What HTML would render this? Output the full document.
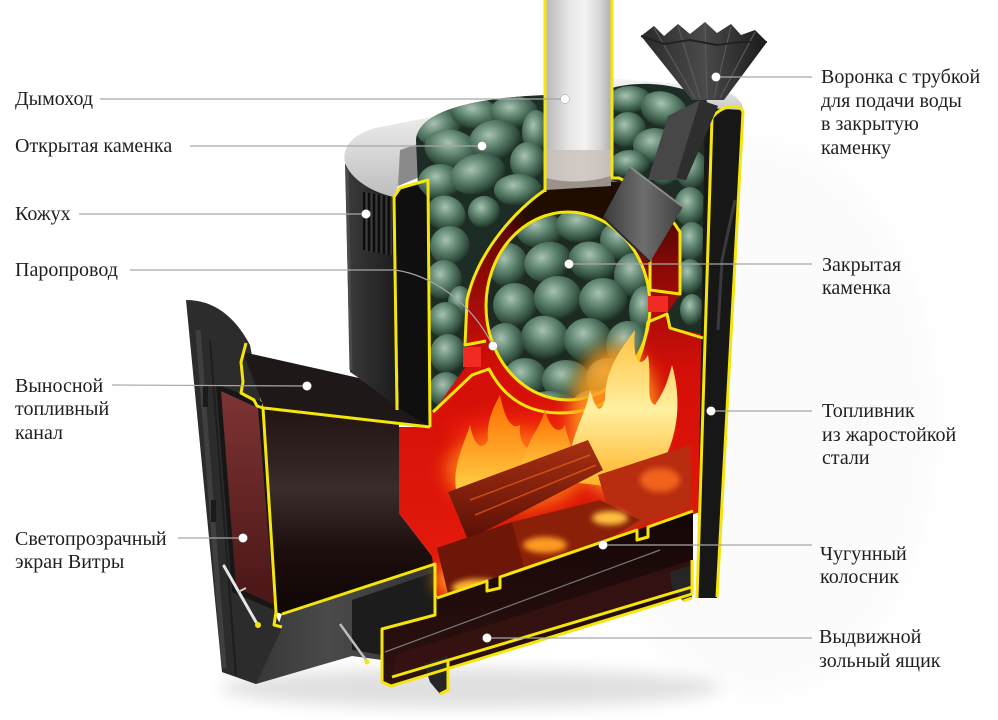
<!DOCTYPE html>
<html><head><meta charset="utf-8"><style>
html,body{margin:0;padding:0;background:#fff;}
svg{display:block;}
text{font-family:"Liberation Serif","DejaVu Serif",serif;font-size:20px;fill:#1f1f1f;}
</style></head><body>
<svg width="998" height="720" viewBox="0 0 998 720" xmlns="http://www.w3.org/2000/svg">
<defs>
<linearGradient id="gChim" x1="0" y1="0" x2="1" y2="0">
<stop offset="0" stop-color="#b8b8b8"/><stop offset=".35" stop-color="#e6e6e6"/><stop offset=".6" stop-color="#f3f3f3"/><stop offset=".85" stop-color="#d2d2d2"/><stop offset="1" stop-color="#aeaeae"/></linearGradient>
<linearGradient id="gSilver" x1="0" y1="0" x2="0" y2="1"><stop offset="0" stop-color="#f8f8f8"/><stop offset="1" stop-color="#bdbdbd"/></linearGradient>
<linearGradient id="gCasing" x1="0" y1="0" x2="1" y2="0"><stop offset="0" stop-color="#3c3c3c"/><stop offset="1" stop-color="#1a1a1a"/></linearGradient>
<linearGradient id="gGlass" x1="0" y1="0" x2="0" y2="1"><stop offset="0" stop-color="#7e3434"/><stop offset="1" stop-color="#4a1616"/></linearGradient>
<linearGradient id="gChan" x1="0" y1="0" x2="0" y2="1"><stop offset="0" stop-color="#221414"/><stop offset=".4" stop-color="#3a2c2a"/><stop offset=".7" stop-color="#1c0e0c"/><stop offset="1" stop-color="#0e0606"/></linearGradient>
<linearGradient id="gRed" x1="0" y1="0" x2="0" y2="1"><stop offset="0" stop-color="#2a0604"/><stop offset=".22" stop-color="#8e0a06"/><stop offset=".45" stop-color="#d40f08"/><stop offset="1" stop-color="#e61c0c"/></linearGradient>
<radialGradient id="gStone" cx=".4" cy=".35" r=".65"><stop offset="0" stop-color="#a9c2b3"/><stop offset=".45" stop-color="#5f8570"/><stop offset=".85" stop-color="#2f4a3b"/><stop offset="1" stop-color="#1c2e24"/></radialGradient>
<linearGradient id="gFlameA" x1="0" y1="1" x2="0" y2="0"><stop offset="0" stop-color="#ffd84a"/><stop offset="1" stop-color="#ff6a00"/></linearGradient>
<linearGradient id="gFlameB" x1="0" y1="1" x2="0" y2="0"><stop offset="0" stop-color="#ffb020"/><stop offset=".5" stop-color="#fff0a0"/><stop offset="1" stop-color="#ffc040"/></linearGradient>
<linearGradient id="gLog" x1="0" y1="0" x2="0" y2="1"><stop offset="0" stop-color="#a83012"/><stop offset="1" stop-color="#5a1006"/></linearGradient>
<linearGradient id="gAsh" x1="0" y1="0" x2="0" y2="1"><stop offset="0" stop-color="#140606"/><stop offset="1" stop-color="#2e1210"/></linearGradient>
<linearGradient id="gCyl" x1="0" y1="0" x2="1" y2="0"><stop offset="0" stop-color="#3a3a3a"/><stop offset=".5" stop-color="#6e6e6e"/><stop offset="1" stop-color="#404040"/></linearGradient>
<linearGradient id="gCone" x1="0" y1="0" x2="1" y2="0"><stop offset="0" stop-color="#2a2a2a"/><stop offset=".5" stop-color="#4a4a4a"/><stop offset="1" stop-color="#1a1a1a"/></linearGradient>
<linearGradient id="gBase" x1="0" y1="0" x2="1" y2="0"><stop offset="0" stop-color="#2e2e2e"/><stop offset=".5" stop-color="#4a4a4a"/><stop offset="1" stop-color="#333"/></linearGradient>
<filter id="b3" x="-50%" y="-50%" width="200%" height="200%"><feGaussianBlur stdDeviation="3"/></filter>
<filter id="b8" x="-50%" y="-50%" width="200%" height="200%"><feGaussianBlur stdDeviation="8"/></filter>
<clipPath id="cL"><path d="M416,140 C418,112 470,98 545,95 L545,192 C515,210 478,250 467,300 L467,365 L433,412 L428,412 L428,198 L418,186 Z"/></clipPath>
<clipPath id="cR"><path d="M612,88 C640,80 680,84 705,98 L712,110 L706,335 L670,327 L667,313 L680,295 L680,232 C668,210 648,192 612,180 Z"/></clipPath>
<clipPath id="cO"><ellipse cx="568" cy="306" rx="81" ry="93"/></clipPath>
</defs>

<rect width="998" height="720" fill="#fff"/>
<ellipse cx="760" cy="420" rx="180" ry="280" fill="#f3f3f3" filter="url(#b8)" opacity=".25"/>

<!-- shadow -->
<ellipse cx="470" cy="688" rx="250" ry="20" fill="#000" opacity=".12" filter="url(#b8)"/>

<!-- base under channel -->
<path d="M222,672 L256,684 L352,656 L382,660 L382,628 L435,615 L435,565 L282,614 L278,626 Z" fill="url(#gBase)"/>
<path d="M352,600 L435,572 L435,615 L382,628 L382,655 L352,650 Z" fill="#1c1c1c"/>
<line x1="340" y1="624" x2="366" y2="660" stroke="#bdbdbd" stroke-width="2.5"/>
<circle cx="367" cy="662" r="2.5" fill="#f5e50a"/>

<!-- door -->
<path d="M186,300 Q226,300 250,345 L262,408 L277,618 L282,628 L256,684 L222,672 Z" fill="#2c2c2c"/>
<path d="M198,330 L224,668" stroke="#3f3f3f" stroke-width="5" fill="none"/>
<path d="M210,340 L236,675" stroke="#1e1e1e" stroke-width="2" fill="none"/>
<rect x="203" y="385" width="5" height="22" fill="#1a1a1a"/>
<rect x="211" y="500" width="5" height="22" fill="#1a1a1a"/>
<path d="M216,384 L262,402 L279,612 L232,592 Z" fill="#161616"/>
<path d="M221,391 L258,408 L274,605 L236,587 Z" fill="url(#gGlass)"/>
<line x1="224" y1="566" x2="256" y2="622" stroke="#e6e6e6" stroke-width="3" stroke-linecap="round"/>
<line x1="238" y1="592" x2="246" y2="588" stroke="#cfcfcf" stroke-width="2"/>
<circle cx="258" cy="625" r="3" fill="#f5e50a"/>

<!-- channel top plate and interior -->
<path d="M243,352 L359,378 L399,406 L430,427 L264,408 Z" fill="#1e1818"/>
<path d="M264,408 L399,424 L399,513 L432,556 L435,564 L282,614 L276,612 Z" fill="url(#gChan)"/>

<!-- upper body casing -->
<path d="M345,163 C352,180 372,192 394,197 L399,408 L359,378 L350,372 Z" fill="url(#gCasing)"/>
<line x1="347" y1="168" x2="351" y2="370" stroke="#4a4a4a" stroke-width="3"/>
<g fill="#0c0c0c">
<rect x="363" y="192" width="2.5" height="58"/><rect x="368" y="193" width="2.5" height="58"/><rect x="373" y="194" width="2.5" height="58"/><rect x="378" y="195" width="2.5" height="58"/><rect x="383" y="196" width="2.5" height="58"/><rect x="388" y="197" width="2.5" height="58"/>
</g>
<g fill="#4a4a4a">
<rect x="365.5" y="192" width="1" height="58"/><rect x="370.5" y="193" width="1" height="58"/><rect x="375.5" y="194" width="1" height="58"/><rect x="380.5" y="195" width="1" height="58"/><rect x="385.5" y="196" width="1" height="58"/><rect x="390.5" y="197" width="1" height="58"/>
</g>
<path d="M394,197 L400,188 L430,178 L430,427 L399,408 Z" fill="#0f0f0f"/>

<!-- silver rims -->
<path d="M345,163 C342,148 350,136 375,128 L545,95 L545,122 L470,142 L432,172 L398,186 L394,197 C372,192 352,180 345,163 Z" fill="url(#gSilver)"/>
<path d="M400,150 L430,140 L432,172 L398,186 Z" fill="#8a8a8a"/>
<path d="M612,78 L700,86 C728,89 743,98 743,110 L713,118 L612,100 Z" fill="url(#gSilver)"/>

<!-- red chamber -->
<path d="M430,182 L706,182 L700,512 L437,598 L432,556 L399,513 L399,427 L430,427 Z" fill="url(#gRed)"/>
<ellipse cx="585" cy="212" rx="70" ry="38" fill="#1a0805" opacity=".9" filter="url(#b8)"/>
<ellipse cx="560" cy="432" rx="110" ry="22" fill="#ff2a10" opacity=".5" filter="url(#b8)"/>

<!-- stones left -->
<g clip-path="url(#cL)">
<rect x="400" y="88" width="146" height="330" fill="#1d2c24"/>
<g fill="url(#gStone)">
<ellipse cx="440" cy="127" rx="24" ry="18" transform="rotate(-20 440 127)"/>
<ellipse cx="476" cy="114" rx="26" ry="16" transform="rotate(10 476 114)"/>
<ellipse cx="514" cy="112" rx="24" ry="16"/>
<ellipse cx="536" cy="132" rx="14" ry="22"/>
<ellipse cx="452" cy="150" rx="28" ry="20" transform="rotate(15 452 150)"/>
<ellipse cx="495" cy="140" rx="26" ry="20" transform="rotate(-10 495 140)"/>
<ellipse cx="528" cy="162" rx="18" ry="20"/>
<ellipse cx="440" cy="182" rx="22" ry="18"/>
<ellipse cx="478" cy="174" rx="28" ry="20" transform="rotate(-15 478 174)"/>
<ellipse cx="518" cy="190" rx="24" ry="16"/>
<ellipse cx="446" cy="214" rx="20" ry="18" transform="rotate(30 446 214)"/>
<ellipse cx="484" cy="212" rx="16" ry="16"/>
<ellipse cx="450" cy="246" rx="20" ry="20"/>
<ellipse cx="444" cy="280" rx="18" ry="20"/>
<ellipse cx="460" cy="302" rx="12" ry="16"/>
<ellipse cx="446" cy="320" rx="18" ry="18"/>
<ellipse cx="448" cy="354" rx="18" ry="20"/>
<ellipse cx="446" cy="390" rx="17" ry="18"/>
</g></g>

<!-- stones right -->
<g clip-path="url(#cR)">
<rect x="612" y="80" width="100" height="260" fill="#1d2c24"/>
<g fill="url(#gStone)">
<ellipse cx="630" cy="100" rx="22" ry="14"/>
<ellipse cx="664" cy="110" rx="24" ry="18" transform="rotate(20 664 110)"/>
<ellipse cx="628" cy="130" rx="18" ry="18"/>
<ellipse cx="655" cy="146" rx="22" ry="18"/>
<ellipse cx="690" cy="132" rx="14" ry="20"/>
<ellipse cx="630" cy="164" rx="20" ry="14"/>
<ellipse cx="692" cy="170" rx="16" ry="20"/>
<ellipse cx="690" cy="207" rx="16" ry="20"/>
<ellipse cx="692" cy="242" rx="15" ry="20"/>
<ellipse cx="690" cy="277" rx="14" ry="18"/>
<ellipse cx="692" cy="310" rx="12" ry="16"/>
<ellipse cx="665" cy="172" rx="14" ry="14"/>
</g></g>

<!-- oval stones -->
<g clip-path="url(#cO)">
<rect x="480" y="205" width="180" height="200" fill="#1c2a22"/>
<g fill="url(#gStone)">
<ellipse cx="540" cy="230" rx="24" ry="18"/>
<ellipse cx="582" cy="225" rx="26" ry="18"/>
<ellipse cx="622" cy="240" rx="22" ry="20"/>
<ellipse cx="508" cy="265" rx="20" ry="22"/>
<ellipse cx="548" cy="262" rx="24" ry="20" transform="rotate(-15 548 262)"/>
<ellipse cx="592" cy="262" rx="24" ry="20" transform="rotate(20 592 262)"/>
<ellipse cx="634" cy="275" rx="20" ry="22"/>
<ellipse cx="515" cy="305" rx="22" ry="22"/>
<ellipse cx="558" cy="298" rx="24" ry="22"/>
<ellipse cx="603" cy="300" rx="24" ry="22"/>
<ellipse cx="645" cy="310" rx="16" ry="24"/>
<ellipse cx="505" cy="345" rx="20" ry="22"/>
<ellipse cx="545" cy="338" rx="24" ry="22" transform="rotate(20 545 338)"/>
<ellipse cx="588" cy="340" rx="24" ry="22"/>
<ellipse cx="628" cy="345" rx="22" ry="24"/>
<ellipse cx="525" cy="378" rx="22" ry="20"/>
<ellipse cx="566" cy="380" rx="24" ry="20"/>
<ellipse cx="608" cy="378" rx="22" ry="20"/>
<ellipse cx="550" cy="405" rx="26" ry="14"/>
<ellipse cx="595" cy="402" rx="22" ry="12"/>
</g></g>

<!-- right casing -->
<path d="M705,108 L743,110 L717,598 L697,598 Z" fill="#171717"/>
<path d="M735,200 L722,260 L718,330" stroke="#3a3a3a" stroke-width="3" fill="none"/>

<!-- dome yellow lines -->
<g fill="none" stroke="#f5e50a" stroke-width="3" stroke-linejoin="round">
<path d="M545,0 L545,190 C518,208 478,250 467,300 L465,345 L486,341"/>
<ellipse cx="568" cy="306" rx="82" ry="94"/>
<path d="M433,412 L472,375 L489,369 C505,400 530,413 560,413 C605,413 638,390 648,322 L667,314 L670,328 L703,338"/>
<path d="M612,0 L612,178 L619,178 C645,190 665,208 680,232 L680,294 L650,290 L650,258"/>
<path d="M397,410 L394,197 L400,188 L428,180 L430,427"/>
<path d="M712,118 C720,106 740,102 743,112 L717,597"/>
<path d="M712,118 L697,598"/>
<path d="M246,343 L241,362 L243,382 L241,393 L254,400 L257,406 L263,408 L276,612 L274,625 L282,627"/>
<path d="M264,408 L430,427"/>
</g>
<rect x="463" y="347" width="18" height="20" fill="#f22a24"/>
<rect x="648" y="296" width="20" height="16" fill="#f22a24"/>

<!-- fire -->
<g filter="url(#b8)">
<ellipse cx="515" cy="470" rx="70" ry="40" fill="#ff7a10" opacity=".85"/>
<ellipse cx="615" cy="420" rx="45" ry="75" fill="#ffa020" opacity=".85"/>
<ellipse cx="470" cy="580" rx="35" ry="16" fill="#ffa020"/>
</g>
<path d="M458,500 C450,470 462,450 470,425 C474,445 482,452 488,440 C486,420 495,405 500,395 C505,420 512,430 520,425 C518,445 530,455 540,445 C545,470 540,485 530,495 Z" fill="url(#gFlameA)"/>
<path d="M570,482 C565,440 585,420 590,390 C596,410 600,415 605,400 C605,370 620,350 635,330 C632,360 640,370 648,355 C652,380 645,400 655,405 C665,390 668,380 672,365 C685,410 675,460 640,490 Z" fill="url(#gFlameB)"/>
<path d="M520,475 C525,440 540,430 545,410 C550,430 560,435 565,425 C570,450 580,460 575,480 Z" fill="url(#gFlameA)"/>
<path d="M598,475 L690,445 L692,508 L615,534 Z" fill="#b82c10"/>
<path d="M448,492 L588,440 L603,470 L468,540 Z" fill="url(#gLog)"/>
<path d="M470,500 L590,455 M475,515 L596,465" stroke="#ff6a20" stroke-width="1.5" opacity=".6"/>
<path d="M437,548 L512,522 L530,588 L450,602 Z" fill="#6e1608"/>
<path d="M512,522 L600,500 L640,520 L530,588 Z" fill="#8a2008"/>
<g filter="url(#b3)">
<ellipse cx="478" cy="588" rx="26" ry="9" fill="#ffb030"/>
<ellipse cx="545" cy="545" rx="22" ry="8" fill="#ff9a20"/>
<ellipse cx="610" cy="518" rx="18" ry="7" fill="#ffc040"/>
<ellipse cx="660" cy="480" rx="20" ry="12" fill="#ff7020" opacity=".8"/>
</g>

<!-- ash pit & drawer -->
<path d="M435,598 L693,511 L693,560 L692,594 L391,686 L382,682 L382,628 L435,615 Z" fill="url(#gAsh)"/>
<path d="M392,676 L692,586 L692,560 L395,655 Z" fill="#3a1412" opacity=".7"/>
<line x1="385" y1="652" x2="660" y2="550" stroke="#7a7a7a" stroke-width="1.2"/>
<path d="M424,664 L448,656 L448,690 L440,694 L430,682 Z" fill="#262626"/>
<path d="M670,572 L692,565 L692,598 L683,601 L672,588 Z" fill="#262626"/>
<g fill="none" stroke="#f5e50a" stroke-width="3" stroke-linejoin="round">
<path d="M437,598 L487,581 L487,591 L500,588 L500,577 L637,530 L637,540 L648,537 L648,527 L693,511"/>
<path d="M282,614 L435,564 L435,615 L382,629 L382,682 L391,686 L692,594 L692,560"/>
<path d="M392,677 L692,587"/>
<path d="M440,694 L448,690 L448,660"/>
<path d="M683,601 L692,598"/>
</g>

<!-- chimney -->
<rect x="546" y="0" width="65" height="186" fill="url(#gChim)"/>
<rect x="546" y="150" width="65" height="32" fill="#c9c1b9" opacity=".8"/>
<path d="M546,178 Q578,186 611,176 L611,186 L546,190 Z" fill="#9a928a"/>
<g stroke="#f5e50a" stroke-width="3"><line x1="545" y1="0" x2="545" y2="192"/><line x1="612" y1="0" x2="612" y2="178"/></g>

<!-- funnel -->
<path d="M668,116 L700,100 L718,106 L686,180 L648,180 Z" fill="#474747"/>
<path d="M700,100 L718,106 L686,180 L676,178 Z" fill="#2e2e2e"/>
<path d="M630,167 L683,207 L650,262 L603,217 Z" fill="url(#gCyl)"/>
<path d="M630,167 L683,207" stroke="#8a8a8a" stroke-width="2"/>
<path d="M603,217 L650,262" stroke="#2a2a2a" stroke-width="2"/>
<path d="M641,36 L654,26 L664,36 L678,24 L690,34 L705,22 L717,33 L731,24 L741,35 L755,30 L767,42 L724,100 L692,100 Z" fill="url(#gCone)"/>
<g stroke="#5a5a5a" stroke-width="1.2" fill="none">
<path d="M654,28 L695,98 M678,26 L700,98 M705,24 L707,98 M731,26 L714,98 M755,32 L720,98"/>
</g>
<path d="M641,36 L664,44 L690,40 L717,45 L741,42 L767,42" stroke="#222" stroke-width="2" fill="none"/>

<!-- connectors -->
<g stroke="#a6a6a6" stroke-width="1.2" fill="none">
<line x1="100" y1="99" x2="565" y2="99"/>
<line x1="190" y1="146" x2="482" y2="146"/>
<line x1="79" y1="214" x2="366" y2="214"/>
<path d="M130,270 L395,270 C430,275 470,300 493,346"/>
<line x1="112" y1="385" x2="307" y2="386"/>
<line x1="178" y1="538" x2="243" y2="538"/>
<line x1="716" y1="77" x2="812" y2="77"/>
<line x1="569" y1="264" x2="812" y2="264"/>
<line x1="711" y1="411" x2="812" y2="411"/>
<line x1="603" y1="545" x2="812" y2="545"/>
<line x1="487" y1="638" x2="812" y2="638"/>
</g>
<g fill="#fff" stroke="#888" stroke-width=".4">
<circle cx="565" cy="99" r="4.5"/><circle cx="482" cy="146" r="4.5"/><circle cx="366" cy="214" r="4.5"/><circle cx="493" cy="346" r="4.5"/><circle cx="307" cy="386" r="4.5"/><circle cx="243" cy="538" r="4.5"/><circle cx="716" cy="77" r="4.5"/><circle cx="569" cy="264" r="4.5"/><circle cx="711" cy="411" r="4.5"/><circle cx="603" cy="545" r="4.5"/><circle cx="487" cy="638" r="4.5"/>
</g>

<!-- labels -->
<text x="15" y="105">Дымоход</text>
<text x="15" y="152">Открытая каменка</text>
<text x="15" y="220">Кожух</text>
<text x="15" y="276">Паропровод</text>
<text x="15" y="392">Выносной</text>
<text x="15" y="415">топливный</text>
<text x="15" y="439">канал</text>
<text x="15" y="545">Светопрозрачный</text>
<text x="15" y="568">экран Витры</text>
<text x="821" y="83">Воронка с трубкой</text>
<text x="821" y="107">для подачи воды</text>
<text x="821" y="130">в закрытую</text>
<text x="821" y="154">каменку</text>
<text x="822" y="271">Закрытая</text>
<text x="822" y="294">каменка</text>
<text x="822" y="417">Топливник</text>
<text x="822" y="441">из жаростойкой</text>
<text x="822" y="464">стали</text>
<text x="820" y="560">Чугунный</text>
<text x="820" y="583">колосник</text>
<text x="819" y="643">Выдвижной</text>
<text x="819" y="667">зольный ящик</text>
</svg>
</body></html>
